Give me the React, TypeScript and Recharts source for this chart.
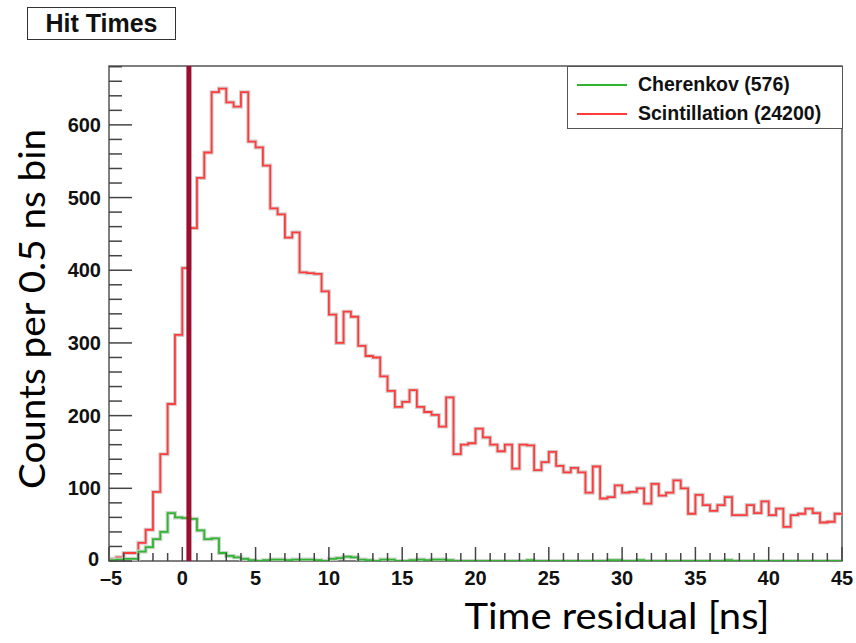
import { LineChart, Line, XAxis, YAxis, ReferenceLine, ReferenceArea, Legend } from 'recharts';

// 0.5 ns bins from -5 to 45 ns
const binEdges = Array.from({ length: 101 }, (_, i) => -5 + 0.5 * i);

const scintillationCounts = [
  3, 5, 11, 11, 25, 43, 95, 147, 216, 311,
  403, 458, 527, 562, 645, 650, 631, 625, 645, 577,
  569, 544, 485, 477, 445, 452, 397, 396, 395, 371,
  339, 300, 343, 336, 296, 282, 280, 254, 234, 212,
  219, 235, 212, 205, 201, 185, 225, 147, 160, 162,
  182, 170, 160, 151, 160, 127, 160, 159, 125, 136,
  150, 131, 122, 128, 122, 94, 130, 86, 88, 104,
  94, 95, 100, 79, 106, 90, 94, 111, 100, 65,
  91, 77, 69, 77, 88, 63, 63, 77, 66, 82,
  63, 72, 47, 63, 65, 72, 66, 53, 54, 65,
];

const cherenkovCounts = [
  1, 2, 3, 3, 13, 19, 30, 40, 66, 60,
  59, 58, 42, 30, 31, 11, 7, 5, 3, 1,
  0, 1, 2, 2, 1, 2, 2, 2, 1, 0,
  3, 4, 6, 5, 2, 1, 0, 2, 2, 0,
  0, 1, 2, 1, 2, 2, 1, 0, 0, 0,
  0, 0, 0, 0, 0, 0, 0, 1, 0, 0,
  0, 0, 0, 0, 0, 0, 0, 0, 1, 1,
  0, 0, 1, 0, 0, 0, 0, 0, 0, 0,
  0, 0, 0, 0, 1, 0, 0, 0, 0, 0,
  0, 0, 0, 0, 0, 0, 0, 0, 0, 0,
];

const xTicks = Array.from({ length: 51 }, (_, i) => -5 + i);
const yTicks = Array.from({ length: 35 }, (_, i) => i * 20);
const vertexTime = 0.45;

const seriesNames = ['Cherenkov (576)', 'Scintillation (24200)'];
const seriesColors = ['#2fb52f', '#ff3b3b'];

const data = binEdges.map((t, i) => ({
  t,
  scint: scintillationCounts[Math.min(i, 99)],
  cher: cherenkovCounts[Math.min(i, 99)],
}));

const PLOT_LEFT = 109;
const PLOT_BOTTOM = 561;
const tickFont = '"Liberation Sans", Arial, sans-serif';
const titleFont = "Lato, 'Open Sans', sans-serif";

const XTick = ({ x, payload }: any) => {
  const v = payload.value;
  const major = v % 5 === 0;
  return (
    <g>
      <line x1={x} x2={x} y1={PLOT_BOTTOM} y2={PLOT_BOTTOM - (major ? 14 : 8)} stroke="#444" strokeWidth={1.5} />
      {major && (
        <text x={x + (v < 0 ? 2 : 0)} y={PLOT_BOTTOM + 24} textAnchor="middle" fontFamily={tickFont} fontWeight="bold" fontSize={20} fill="#111">
          {v < 0 ? '\u2013' + Math.abs(v) : v}
        </text>
      )}
    </g>
  );
};

const YTick = ({ y, payload }: any) => {
  const v = payload.value;
  const major = v % 100 === 0;
  return (
    <g>
      <line x1={PLOT_LEFT} x2={PLOT_LEFT + (major ? 23 : 13)} y1={y} y2={y} stroke="#444" strokeWidth={1.5} />
      {major && (
        <text x={v === 0 ? 99 : 101} y={y + (v === 0 ? 5 : 7)} textAnchor="end" fontFamily={tickFont} fontWeight="bold" fontSize={20} fill="#111">
          {v}
        </text>
      )}
    </g>
  );
};

const XTitle = () => (
  <text x={617} y={629} textAnchor="middle" fontFamily={titleFont} fontSize={36} textLength={305} lengthAdjust="spacingAndGlyphs" fill="#000">
    Time residual [ns]
  </text>
);

const YTitle = () => (
  <text
    x={31}
    y={309}
    textAnchor="middle"
    dominantBaseline="central"
    transform="rotate(-90 31 309)"
    fontFamily={titleFont}
    fontSize={36}
    textLength={360}
    lengthAdjust="spacingAndGlyphs"
    fill="#000"
  >
    Counts per 0.5 ns bin
  </text>
);

const LegendBox = () => (
  <div
    style={{
      width: 274,
      height: 61,
      border: '1.5px solid #555',
      background: '#fff',
      fontFamily: tickFont,
      fontWeight: 'bold',
      fontSize: 19.5,
      color: '#111',
    }}
  >
    {seriesNames.map((name, i) => (
      <div key={name} style={{ display: 'flex', alignItems: 'center', height: 29, marginTop: i === 0 ? 3 : 0 }}>
        <div style={{ width: 50, height: 0, borderTop: `2px solid ${seriesColors[i]}`, marginLeft: 9, marginRight: 11 }} />
        <span>{name}</span>
      </div>
    ))}
  </div>
);

export default function App() {
  return (
    <div style={{ position: 'absolute', left: 0, top: 0, width: 856, height: 643, background: '#fff' }}>
      <div
        style={{
          position: 'absolute',
          left: 27,
          top: 7,
          width: 147,
          height: 31,
          border: '1.5px solid #333',
          display: 'flex',
          alignItems: 'center',
          justifyContent: 'center',
          fontFamily: tickFont,
          fontWeight: 'bold',
          fontSize: 25,
          color: '#111',
          zIndex: 2,
        }}
      >
        Hit Times
      </div>
      <LineChart width={856} height={643} data={data} margin={{ top: 66, right: 14, bottom: 42, left: 59 }}>
        <XAxis
          dataKey="t"
          type="number"
          domain={[-5, 45]}
          ticks={xTicks}
          interval={0}
          tick={<XTick />}
          tickLine={false}
          axisLine={false}
          allowDataOverflow
          height={40}
          label={<XTitle />}
        />
        <YAxis
          type="number"
          domain={[0, 681]}
          ticks={yTicks}
          interval={0}
          tick={<YTick />}
          tickLine={false}
          axisLine={false}
          allowDataOverflow
          width={50}
          label={<YTitle />}
        />
        <ReferenceArea x1={-5} x2={45} y1={0} y2={681} fill="none" stroke="#555" strokeWidth={1.5} ifOverflow="visible" />
        <Line dataKey="scint" type="stepAfter" stroke="#d4cccc" strokeWidth={4} dot={false} isAnimationActive={false} legendType="none" />
        <Line dataKey="scint" type="stepAfter" stroke={seriesColors[1]} strokeWidth={1.8} dot={false} isAnimationActive={false} />
        <Line dataKey="cher" type="stepAfter" stroke="#c8d4c8" strokeWidth={4} dot={false} isAnimationActive={false} legendType="none" />
        <Line dataKey="cher" type="stepAfter" stroke={seriesColors[0]} strokeWidth={1.8} dot={false} isAnimationActive={false} />
        <ReferenceLine x={vertexTime} stroke="#9b0f2e" strokeWidth={5} />
        <Legend
          layout="vertical"
          align="center"
          verticalAlign="middle"
          wrapperStyle={{ left: 567, top: 66, width: 277 }}
          content={<LegendBox />}
        />
      </LineChart>
    </div>
  );
}
